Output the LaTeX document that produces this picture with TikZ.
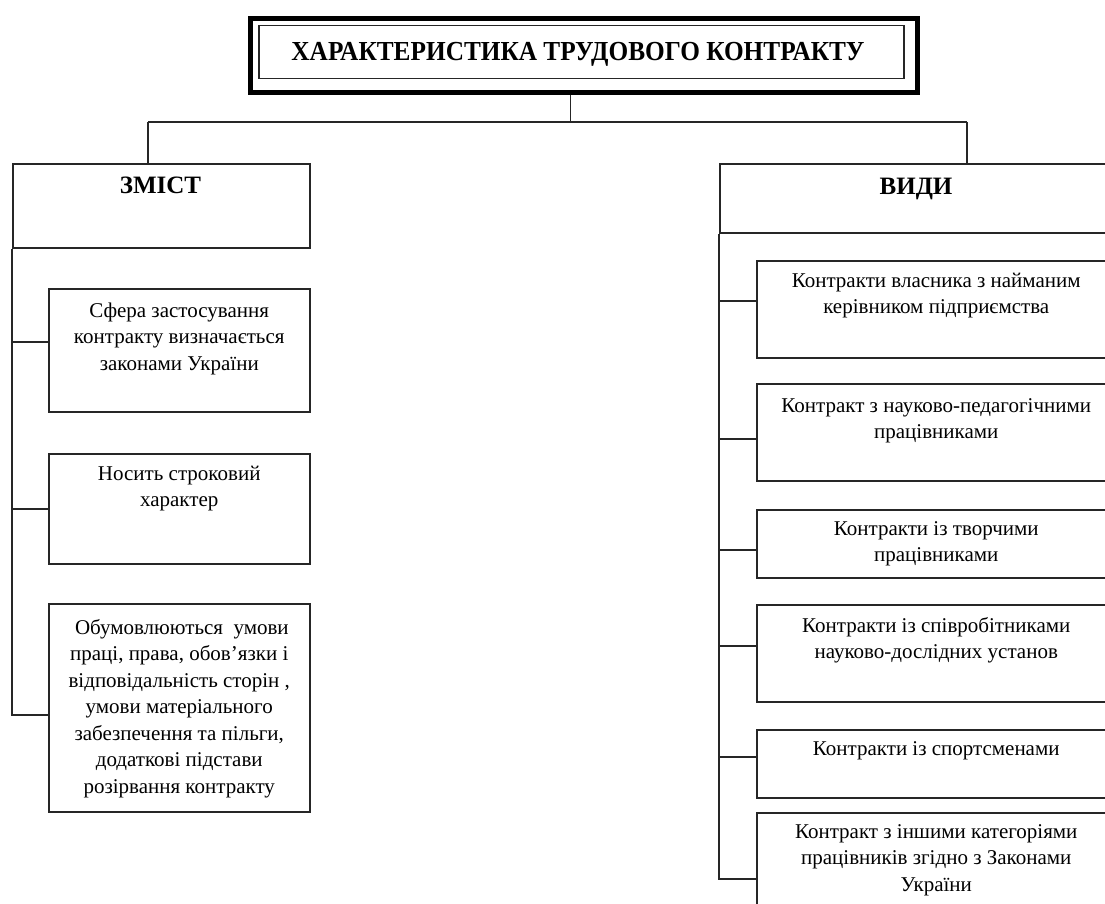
\documentclass[tikz,border=0pt]{standalone}
\usepackage{fontspec}
\setmainfont{Liberation Serif}
\newfontfamily\titlefont{Liberation Serif}[FakeStretch=0.92]
\begin{document}
\begin{tikzpicture}[x=1pt,y=-1pt,
  cell/.style={draw=black!85, line width=1.5pt, anchor=north west, inner sep=0pt},
  txt/.style={align=center, inner sep=0pt, anchor=north, font=\fontsize{21}{26.5}\selectfont},
  head/.style={inner sep=0pt, anchor=base, font=\fontsize{25}{30}\selectfont\bfseries},
  link/.style={draw=black!85, line width=1.4pt}]
\useasboundingbox (0,0) rectangle (1105,903);
\clip (0,0) rectangle (1105,903);

% title with a heavy outer frame
\node[draw=black, line width=5pt, minimum width=667pt, minimum height=74pt, anchor=north west, inner sep=0pt] (frame) at (247.5,15.5) {};
\node[draw=black!85, line width=1.5pt, minimum width=645pt, minimum height=53pt, inner sep=0pt] (title) at (581.5,52) {};
\node[inner sep=0pt, anchor=base, font=\fontsize{27.5}{30}\titlefont\bfseries] (titleT) at (578,60) {ХАРАКТЕРИСТИКА ТРУДОВОГО КОНТРАКТУ};

% junctions of the top bar
\coordinate (jt) at (570,122);
\coordinate (jl) at (148,122);
\coordinate (jr) at (967,122);

% section headers
\node[cell, minimum width=297pt, minimum height=84pt] (zmist) at (12,163) {};
\node[head] (zmistT) at (160.5,193) {ЗМІСТ};
\node[cell, minimum width=396pt, minimum height=69pt] (vydy) at (719,163) {};
\node[head] (vydyT) at (916,194) {ВИДИ};

% left column
\node[cell, minimum width=261pt, minimum height=123pt] (l1) at (48,288) {};
\node[txt] (l1T) at ([yshift=-10.3pt]l1.north) {\strut Сфера застосування\\контракту визначається\\законами України};
\node[cell, minimum width=261pt, minimum height=110pt] (l2) at (48,453) {};
\node[txt] (l2T) at ([yshift=-8.3pt]l2.north) {\strut Носить строковий\\характер};
\node[cell, minimum width=261pt, minimum height=208pt] (l3) at (48,603) {};
\node[txt] (l3T) at ([yshift=-12.5pt]l3.north) {\strut\ Обумовлюються\ \ умови\\праці, права, обов’язки і\\відповідальність сторін ,\\умови матеріального\\забезпечення та пільги,\\додаткові підстави\\розірвання контракту};

% right column
\node[cell, minimum width=359pt, minimum height=97pt] (r1) at (756,260) {};
\node[txt] (r1T) at ([yshift=-8.3pt]r1.north) {\strut Контракти власника з найманим\\керівником підприємства};
\node[cell, minimum width=359pt, minimum height=97pt] (r2) at (756,383) {};
\node[txt] (r2T) at ([yshift=-10.3pt]r2.north) {\strut Контракт з науково-педагогічними\\працівниками};
\node[cell, minimum width=359pt, minimum height=68pt] (r3) at (756,509) {};
\node[txt] (r3T) at ([yshift=-7.3pt]r3.north) {\strut Контракти із творчими\\працівниками};
\node[cell, minimum width=359pt, minimum height=97pt] (r4) at (756,604) {};
\node[txt] (r4T) at ([yshift=-9.3pt]r4.north) {\strut Контракти із співробітниками\\науково-дослідних установ};
\node[cell, minimum width=359pt, minimum height=68pt] (r5) at (756,729) {};
\node[txt] (r5T) at ([yshift=-7.3pt]r5.north) {\strut Контракти із спортсменами};
\node[cell, minimum width=359pt, minimum height=110pt] (r6) at (756,812) {};
\node[txt] (r6T) at ([yshift=-7.3pt]r6.north) {\strut Контракт з іншими категоріями\\працівників згідно з Законами\\України};

% branch points on the spines
\coordinate (b1) at (12,342);
\coordinate (b2) at (12,509);
\coordinate (b3) at (12,715);
\coordinate (c1) at (719,301);
\coordinate (c2) at (719,439);
\coordinate (c3) at (719,550);
\coordinate (c4) at (719,646);
\coordinate (c5) at (719,757);
\coordinate (c6) at (719,879);

% connectors
\draw[link, line width=1pt] (jt |- frame.south) -- (jt);
\draw[link] (jl) -- (jr);
\draw[link] (jl) -- (jl |- zmist.north);
\draw[link] (jr) -- (jr |- vydy.north);

\draw[link] (zmist.south west) -- (b3) -- (b3 -| l3.west);
\draw[link] (b1) -- (b1 -| l1.west);
\draw[link] (b2) -- (b2 -| l2.west);

\draw[link] (vydy.south west) -- (c6) -- (c6 -| r6.west);
\draw[link] (c1) -- (c1 -| r1.west);
\draw[link] (c2) -- (c2 -| r2.west);
\draw[link] (c3) -- (c3 -| r3.west);
\draw[link] (c4) -- (c4 -| r4.west);
\draw[link] (c5) -- (c5 -| r5.west);
\end{tikzpicture}
\end{document}
